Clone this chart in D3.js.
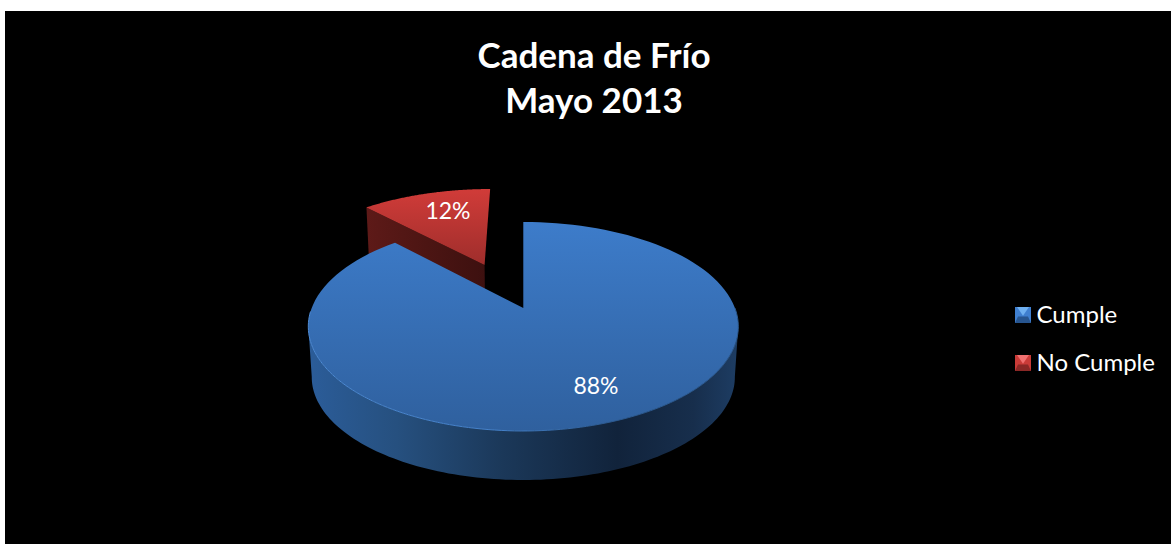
<!DOCTYPE html>
<html><head><meta charset="utf-8">
<script src="https://cdn.jsdelivr.net/npm/d3@7"></script>
<style>html,body{margin:0;padding:0;background:#fff;overflow:hidden}svg{display:block}text{font-family:Lato,"Open Sans",sans-serif;fill:#fff}</style>
</head><body><script>
const titleLines = ["Cadena de Frío", "Mayo 2013"];
const categories = ["Cumple", "No Cumple"];
const values = [88, 12];

const W = 1171, H = 544;
const svg = d3.select("body").append("svg").attr("width", W).attr("height", H);
const defs = svg.append("defs");
svg.append("rect").attr("x", 5).attr("y", 11).attr("width", W - 5).attr("height", H - 11).attr("fill", "#000");

function grad(id, x1, y1, x2, y2, stops) {
  const g = defs.append("linearGradient").attr("id", id).attr("gradientUnits", "userSpaceOnUse")
    .attr("x1", x1).attr("y1", y1).attr("x2", x2).attr("y2", y2);
  stops.forEach(s => g.append("stop").attr("offset", s[0]).attr("stop-color", s[1]));
}
grad("blueTop", 0, 222, 0, 431, [[0, "#3d7cca"], [1, "#2f609e"]]);
grad("redTop", 0, 187, 0, 290, [[0, "#d23c39"], [1, "#8e2927"]]);
grad("blueWall", 312, 0, 736, 0, [[0, "#2b5c98"], [.2, "#26507f"], [.45, "#1b3859"], [.72, "#11233b"], [.9, "#172e4c"], [1, "#1d3c62"]]);
grad("redWall", 366, 0, 488, 0, [[0, "#5e1a18"], [.5, "#4c1513"], [1, "#3c100f"]]);
grad("rim", 308, 0, 739, 0, [[0, "#4d8ad4"], [.45, "#4480c8"], [.7, "#2c5a90"], [1, "#2c5a90"]]);

// perspective projection of the unit disc onto the page
const k = 0.177;
const sx = d3.scaleLinear().domain([-1, 1]).range([523.3 - 211.6, 523.3 + 211.6]);
const sy = d3.scaleLinear().domain([-1, 1]).range([308 - 101.2, 308 + 101.2]);
function project(u, v, level) {
  const w = 1 - k * v, s = level ? 0.984 : 1;
  return [sx(0) + (sx(u / w) - sx(0)) * s, sy(0) + (sy(v / w) - sy(0)) * s + (level ? 51 : 0)];
}
const rimPt = (t, off, level, r = 1) => project(off[0] + r * Math.sin(t), off[1] - r * Math.cos(t), level);
const line = d3.line();
const arcPts = (a0, a1, off, level, r) => d3.range(0, 121).map(i => rimPt(a0 + (a1 - a0) * i / 120, off, level, r));

const pie = d3.pie().sort(null).startAngle(0).endAngle(2 * Math.PI)(values);
const [blue, red] = pie;
const rad = d => d * Math.PI / 180;

// exploded slice offset along its bisector
const explode = 0.494;
const bis = (red.startAngle + red.endAngle) / 2;
const off = [explode * Math.sin(bis) - 0.016, -explode * Math.cos(bis)];
const none = [0, 0];
const rr = 1.025;

// red slice: inner wall, then top
const redCenterTop = project(off[0], off[1], 0), redCenterLow = project(off[0], off[1], 1);
const redCornerTop = rimPt(red.startAngle, off, 0, rr), redCornerLow = rimPt(red.startAngle, off, 1, rr);
svg.append("path").attr("fill", "url(#redWall)")
  .attr("d", line([redCornerTop, redCenterTop, redCenterLow, redCornerLow]) + "Z");
svg.append("path").attr("fill", "url(#redTop)")
  .attr("d", line([redCenterTop, ...arcPts(red.startAngle, red.endAngle, off, 0, rr)]) + "Z");

// blue slice: outer wall, then top
const wallA = rad(100), wallB = rad(260);
svg.append("path").attr("fill", "url(#blueWall)")
  .attr("d", line([...arcPts(wallA, wallB, none, 0), ...arcPts(wallB, wallA, none, 1)]) + "Z");
svg.append("path").attr("fill", "url(#blueTop)")
  .attr("d", line([project(0, 0, 0), ...arcPts(blue.startAngle, blue.endAngle, none, 0)]) + "Z");
svg.append("path").attr("fill", "none").attr("stroke", "url(#rim)").attr("stroke-width", 1)
  .attr("d", line(arcPts(rad(90), rad(268), none, 0)));

// title
const title = svg.append("text").attr("text-anchor", "middle").attr("font-weight", 700).attr("font-size", 35);
titleLines.forEach((t, i) => title.append("tspan").attr("x", 594).attr("y", 68 + i * 45).text(t));

// data labels
const fmt = d => d.value + "%";
svg.append("text").attr("x", 448).attr("y", 219).attr("text-anchor", "middle").attr("font-size", 23).text(fmt(red));
svg.append("text").attr("x", 596).attr("y", 394).attr("text-anchor", "middle").attr("font-size", 23).text(fmt(blue));

// legend
const legendColors = [["#3f7fcf", "#6fb0f0", "#27558f"], ["#c93b38", "#f07070", "#8a2826"]];
const ly = d3.scalePoint().domain(categories).range([307, 355]);
categories.forEach((c, i) => {
  const y = ly(c), x = 1015, s = 16, col = legendColors[i];
  const g = svg.append("g").attr("transform", `translate(${x},${y})`);
  g.append("rect").attr("width", s).attr("height", s).attr("fill", col[0]);
  g.append("path").attr("fill", col[1]).attr("d", line([[2, 0], [s - 2, 0], [s / 2, s * .55]]) + "Z");
  g.append("path").attr("fill", col[2]).attr("d", line([[0, s], [s, s], [s - 3, s * .6], [3, s * .6]]) + "Z");
  svg.append("text").attr("x", 1036.5).attr("y", y + 16).attr("font-size", 24).text(c);
});
</script></body></html>
